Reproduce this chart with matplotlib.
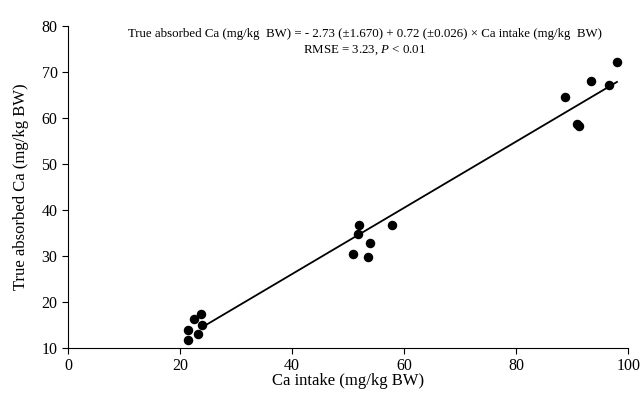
import matplotlib.pyplot as plt

plt.rcParams['font.family'] = ['Liberation Serif', 'DejaVu Serif']
plt.rcParams['mathtext.fontset'] = 'custom'
plt.rcParams['mathtext.rm'] = 'Liberation Serif'
plt.rcParams['mathtext.it'] = 'Liberation Serif:italic'

# observed points
ca_intake = [21.5, 21.5, 22.5, 23.3, 23.7, 24.0,
             50.9, 51.9, 51.7, 53.5, 54.0, 57.9,
             88.8, 90.8, 91.3, 93.4, 96.6, 98.0]
absorbed = [11.8, 13.9, 16.2, 13.1, 17.3, 15.1,
            30.5, 36.7, 34.8, 29.8, 32.9, 36.7,
            64.5, 58.6, 58.2, 68.0, 67.1, 72.1]

# regression line
intercept = -2.73
slope = 0.72
line_x = [24.3, 98.0]
line_y = [intercept + slope * x for x in line_x]

xticks = [0, 20, 40, 60, 80, 100]
yticks = [10, 20, 30, 40, 50, 60, 70, 80]

fig = plt.figure(figsize=(6.41, 3.93), dpi=100)
ax = fig.add_axes([0.106, 0.1145, 0.874, 0.8195])

ax.scatter(ca_intake, absorbed, s=34, color='black', zorder=3)
ax.plot(line_x, line_y, color='black', lw=1.3)

ax.set_xlim(0, 100)
ax.set_ylim(10, 80)
ax.set_xticks(xticks)
ax.set_yticks(yticks)
ax.spines['top'].set_visible(False)
ax.spines['right'].set_visible(False)
ax.tick_params(labelsize=11.5, length=4, direction='out')

ax.set_xlabel('Ca intake (mg/kg BW)', fontsize=12, labelpad=-1)
ax.set_ylabel('True absorbed Ca (mg/kg BW)', fontsize=12, labelpad=9)

ax.text(53, 78.2, 'True absorbed Ca (mg/kg  BW) = - 2.73 (\u00b11.670) + 0.72 (\u00b10.026) \u00d7 Ca intake (mg/kg  BW)',
        ha='center', va='center', fontsize=9.3)
ax.text(53, 74.8, 'RMSE = 3.23, $\\it{P}$ < 0.01', ha='center', va='center', fontsize=9.3)

fig.savefig('out.png', dpi=100)
